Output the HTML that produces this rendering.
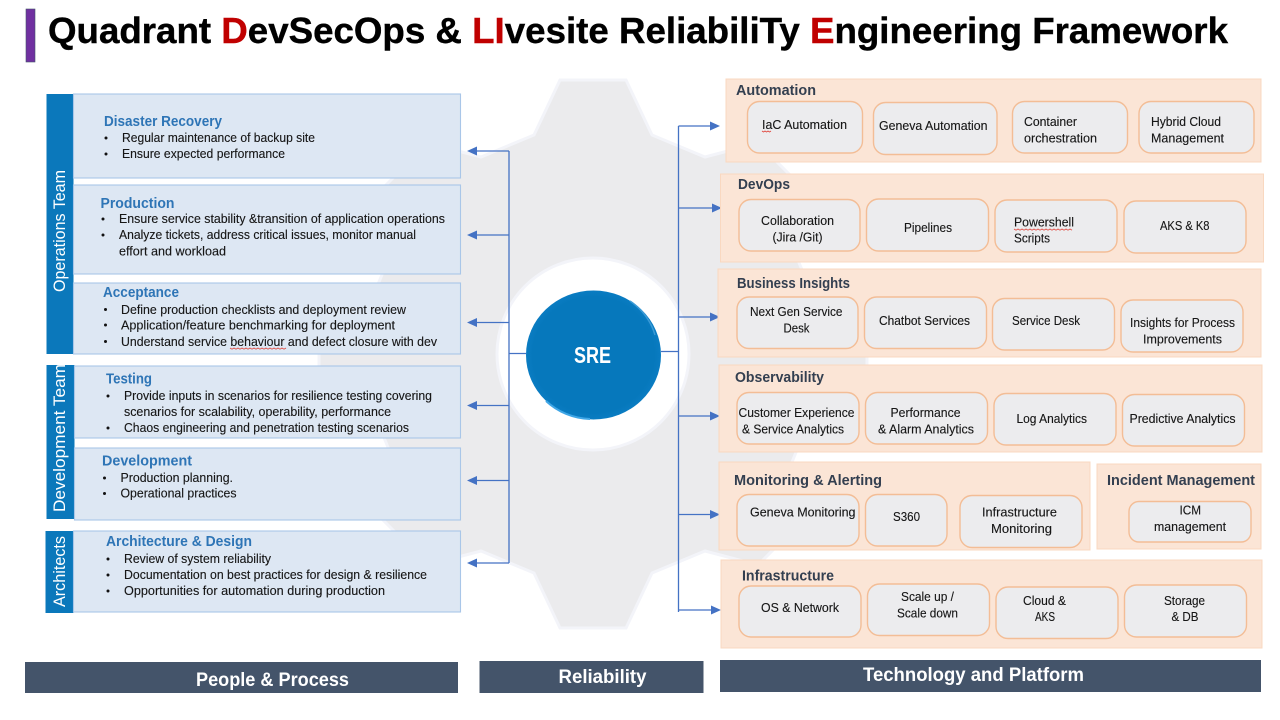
<!DOCTYPE html>
<html><head><meta charset="utf-8"><title>Quadrant DevSecOps Framework</title>
<style>
html,body{margin:0;padding:0;background:#fff}
svg{display:block}
text{font-family:"Liberation Sans",sans-serif;fill:#1a1a1a;font-size:12.5px}
.h{font-weight:bold;font-size:14.5px;fill:#2e75b6}
.p{font-weight:bold;font-size:14.5px;fill:#333f50}
.t{fill:#161616;font-size:12.5px;stroke:#161616;stroke-width:.12}
.b{font-weight:bold;font-size:19px;fill:#fff}
.v{font-size:17px;fill:#fff}
.box{fill:#dde7f3;stroke:#a9c6e8;stroke-width:1.1}
.bar{fill:#0b78bb}
.pan{fill:#fbe5d6;stroke:#f9d8c0;stroke-width:1}
.in{fill:#ececee;stroke:#f3bd96;stroke-width:1.4}
.dk{fill:#44546a}
.c{stroke:#4472c4;stroke-width:1.3;fill:none}
.a{fill:#4472c4}
.w{stroke:#e0433a;stroke-width:.8;fill:none}
.d{fill:#111}
</style></head><body>
<svg width="1280" height="720" viewBox="0 0 1280 720" xmlns="http://www.w3.org/2000/svg">
<defs>
<radialGradient id="sre" cx="50%" cy="50%" r="50%">
<stop offset="0.9" stop-color="#0678bc"/>
<stop offset="1" stop-color="#0a7cc2"/>
</radialGradient>
</defs>
<rect width="1280" height="720" fill="#fff"/>
<!-- title -->
<rect x="26" y="9" width="9" height="53" fill="#7030a0" stroke="#44546a" stroke-width=".6"/>
<text x="48" y="43" textLength="1180" lengthAdjust="spacingAndGlyphs" style="font-size:36px;font-weight:bold;fill:#000;stroke:#000;stroke-width:.4">Quadrant <tspan style="fill:#c00000;stroke:#c00000">D</tspan>evSecOps &amp; <tspan style="fill:#c00000;stroke:#c00000">LI</tspan>vesite ReliabiliT<tspan style="fill:#000">y</tspan> <tspan style="fill:#c00000;stroke:#c00000">E</tspan>ngineering Framework</text>
<!-- gear -->
<polygon transform="translate(593 354)" fill="#ebebed" stroke="#f3f4f9" stroke-width="3" points="-33,-274 33,-274 59,-219 112,-197 165,-211 211,-165 197,-113 219,-60 274,-33 274,33 219,59 197,113 211,165 165,211 112,197 59,219 33,274 -33,274 -59,219 -112,197 -165,211 -211,165 -197,113 -219,59 -274,33 -274,-33 -219,-60 -197,-113 -211,-165 -165,-211 -112,-197 -59,-219"/>
<circle cx="593" cy="354" r="96" fill="#fff" stroke="#f3f4f9" stroke-width="3"/>
<!-- connectors -->
<path class="c" d="M526 353.5H509M509 151V563M509 151H472M509 235H472M509 322.5H472M509 405.5H472M509 480.5H472M509 563H472"/>
<path class="c" d="M661 351.5H678.5M678.5 126V612M678.5 126H712M678.5 208H714M678.5 317H712M678.5 416H712M678.5 514.5H712M678.5 610H713"/>
<g class="a">
<polygon points="467,151 477,146.5 477,155.5"/><polygon points="467,235 477,230.5 477,239.5"/><polygon points="467,322.5 477,318 477,327"/><polygon points="467,405.5 477,401 477,410"/><polygon points="467,480.5 477,476 477,485"/><polygon points="467,563 477,558.5 477,567.5"/>
<polygon points="720,126 710,121.5 710,130.5"/><polygon points="722,208 712,203.5 712,212.5"/><polygon points="720,317 710,312.5 710,321.5"/><polygon points="720,416 710,411.5 710,420.5"/><polygon points="720,514.5 710,510 710,519"/><polygon points="721,610 711,605.5 711,614.5"/>
</g>
<!-- SRE -->
<ellipse cx="593.5" cy="355" rx="67.5" ry="64.5" fill="url(#sre)"/>
<path d="M630 301A66 63 0 0 1 655 335" stroke="#3a9ad6" stroke-width="1.5" fill="none"/>
<path d="M546 401A66 63 0 0 0 590 419" stroke="#3fa6e6" stroke-width="2" fill="none"/>
<text x="574" y="363" textLength="37" lengthAdjust="spacingAndGlyphs" style="font-size:23px;font-weight:bold;fill:#fff">SRE</text>
<!-- left bars -->
<rect class="bar" x="46.5" y="94" width="27" height="260"/>
<rect class="bar" x="46.5" y="365" width="28" height="154"/>
<rect class="bar" x="45.5" y="531" width="28" height="82"/>
<text class="v" transform="translate(65 292) rotate(-90)" textLength="122" lengthAdjust="spacingAndGlyphs">Operations Team</text>
<text class="v" transform="translate(65 512) rotate(-90)" textLength="148" lengthAdjust="spacingAndGlyphs">Development Team</text>
<text class="v" transform="translate(65 607) rotate(-90)" textLength="71" lengthAdjust="spacingAndGlyphs">Architects</text>
<!-- left boxes -->
<rect class="box" x="73.5" y="94" width="387" height="84"/>
<rect class="box" x="73.5" y="185" width="387" height="89"/>
<rect class="box" x="73.5" y="283" width="387" height="71"/>
<rect class="box" x="74.5" y="366" width="386" height="72"/>
<rect class="box" x="74.5" y="448" width="386" height="72"/>
<rect class="box" x="73.5" y="531" width="387" height="81"/>
<text class="h" x="104" y="126" textLength="118" lengthAdjust="spacingAndGlyphs">Disaster Recovery</text>
<circle class="d" cx="106" cy="138" r="1.5"/><text class="t" x="122" y="142" textLength="193" lengthAdjust="spacingAndGlyphs">Regular maintenance of backup site</text>
<circle class="d" cx="106" cy="154" r="1.5"/><text class="t" x="122" y="158" textLength="163" lengthAdjust="spacingAndGlyphs">Ensure expected performance</text>
<text class="h" x="100.5" y="208" textLength="74" lengthAdjust="spacingAndGlyphs">Production</text>
<circle class="d" cx="103" cy="219" r="1.5"/><text class="t" x="119" y="223" textLength="326" lengthAdjust="spacingAndGlyphs">Ensure service stability &amp;transition of application operations</text>
<circle class="d" cx="103" cy="235" r="1.5"/><text class="t" x="119" y="239" textLength="297" lengthAdjust="spacingAndGlyphs">Analyze tickets, address critical issues, monitor manual</text>
<text class="t" x="119" y="255.5" textLength="107" lengthAdjust="spacingAndGlyphs">effort and workload</text>
<text class="h" x="103" y="297" textLength="76" lengthAdjust="spacingAndGlyphs">Acceptance</text>
<circle class="d" cx="105.5" cy="309.5" r="1.5"/><text class="t" x="121" y="314" textLength="285" lengthAdjust="spacingAndGlyphs">Define production checklists and deployment review</text>
<circle class="d" cx="105.5" cy="325" r="1.5"/><text class="t" x="121" y="329.5" textLength="274" lengthAdjust="spacingAndGlyphs">Application/feature benchmarking for deployment</text>
<circle class="d" cx="105.5" cy="341.5" r="1.5"/><text class="t" x="121" y="346" textLength="316" lengthAdjust="spacingAndGlyphs">Understand service behaviour and defect closure with dev</text>
<path class="w" d="M230 348l2 1.2 2-1.2 2 1.2 2-1.2 2 1.2 2-1.2 2 1.2 2-1.2 2 1.2 2-1.2 2 1.2 2-1.2 2 1.2 2-1.2 2 1.2 2-1.2 2 1.2 2-1.2 2 1.2 2-1.2 2 1.2 2-1.2 2 1.2 2-1.2 2 1.2 2-1.2 2 1.2 2-1.2"/>
<text class="h" x="106" y="383.5" textLength="46" lengthAdjust="spacingAndGlyphs">Testing</text>
<circle class="d" cx="108" cy="396" r="1.5"/><text class="t" x="124" y="400" textLength="308" lengthAdjust="spacingAndGlyphs">Provide inputs in scenarios for resilience testing covering</text>
<text class="t" x="124" y="416" textLength="267" lengthAdjust="spacingAndGlyphs">scenarios for scalability, operability, performance</text>
<circle class="d" cx="108" cy="428" r="1.5"/><text class="t" x="124" y="432" textLength="285" lengthAdjust="spacingAndGlyphs">Chaos engineering and penetration testing scenarios</text>
<text class="h" x="102" y="465.5" textLength="90" lengthAdjust="spacingAndGlyphs">Development</text>
<circle class="d" cx="104.5" cy="478" r="1.5"/><text class="t" x="120.5" y="482" textLength="112.5" lengthAdjust="spacingAndGlyphs">Production planning.</text>
<circle class="d" cx="104.5" cy="493.5" r="1.5"/><text class="t" x="120.5" y="497.5" textLength="116" lengthAdjust="spacingAndGlyphs">Operational practices</text>
<text class="h" x="106" y="546" textLength="146" lengthAdjust="spacingAndGlyphs">Architecture &amp; Design</text>
<circle class="d" cx="108" cy="559" r="1.5"/><text class="t" x="124" y="563" textLength="147" lengthAdjust="spacingAndGlyphs">Review of system reliability</text>
<circle class="d" cx="108" cy="575" r="1.5"/><text class="t" x="124" y="579" textLength="303" lengthAdjust="spacingAndGlyphs">Documentation on best practices for design &amp; resilience</text>
<circle class="d" cx="108" cy="591" r="1.5"/><text class="t" x="124" y="595" textLength="261" lengthAdjust="spacingAndGlyphs">Opportunities for automation during production</text>
<!-- right panels -->
<rect class="pan" x="726" y="79" width="535" height="83"/>
<rect class="pan" x="720.5" y="174" width="543" height="88"/>
<rect class="pan" x="718" y="269" width="543" height="88"/>
<rect class="pan" x="719" y="365" width="543" height="87"/>
<rect class="pan" x="719" y="462" width="371" height="88"/>
<rect class="pan" x="1097" y="464" width="164" height="85"/>
<rect class="pan" x="721" y="560" width="541" height="88"/>
<text class="p" x="736" y="95" textLength="80" lengthAdjust="spacingAndGlyphs">Automation</text>
<rect class="in" x="747.5" y="101.5" width="115" height="51.5" rx="12"/>
<rect class="in" x="873.5" y="102.5" width="123.5" height="52" rx="12"/>
<rect class="in" x="1012.5" y="101.5" width="115" height="51.5" rx="12"/>
<rect class="in" x="1139" y="101.5" width="115" height="51.5" rx="12"/>
<text class="t" x="762" y="129" textLength="85" lengthAdjust="spacingAndGlyphs">IaC Automation</text>
<path class="w" d="M762 131l1.5 1 1.5-1 1.5 1 1.5-1 1.5 1 1.5-1"/>
<text class="t" x="879" y="130" textLength="108.5" lengthAdjust="spacingAndGlyphs">Geneva Automation</text>
<text class="t" x="1024" y="126" textLength="53" lengthAdjust="spacingAndGlyphs">Container</text>
<text class="t" x="1024" y="142.5" textLength="73" lengthAdjust="spacingAndGlyphs">orchestration</text>
<text class="t" x="1151" y="126" textLength="70" lengthAdjust="spacingAndGlyphs">Hybrid Cloud</text>
<text class="t" x="1151" y="142.5" textLength="73" lengthAdjust="spacingAndGlyphs">Management</text>
<text class="p" x="738" y="189" textLength="52" lengthAdjust="spacingAndGlyphs">DevOps</text>
<rect class="in" x="739" y="199.5" width="121" height="51.5" rx="12"/>
<rect class="in" x="866.5" y="199" width="122" height="52" rx="12"/>
<rect class="in" x="995" y="200" width="122" height="52" rx="12"/>
<rect class="in" x="1124" y="201" width="122" height="52" rx="12"/>
<text class="t" x="761" y="225" textLength="73" lengthAdjust="spacingAndGlyphs">Collaboration</text>
<text class="t" x="772.5" y="241.5" textLength="50" lengthAdjust="spacingAndGlyphs">(Jira /Git)</text>
<text class="t" x="904" y="232" textLength="48" lengthAdjust="spacingAndGlyphs">Pipelines</text>
<text class="t" x="1014" y="226.5" textLength="60" lengthAdjust="spacingAndGlyphs">Powershell</text>
<path class="w" d="M1014 229l2 1.2 2-1.2 2 1.2 2-1.2 2 1.2 2-1.2 2 1.2 2-1.2 2 1.2 2-1.2 2 1.2 2-1.2 2 1.2 2-1.2 2 1.2 2-1.2 2 1.2 2-1.2 2 1.2 2-1.2 2 1.2 2-1.2 2 1.2 2-1.2 2 1.2 2-1.2 2 1.2 2-1.2 2 1.2"/>
<text class="t" x="1014" y="242.5" textLength="36" lengthAdjust="spacingAndGlyphs">Scripts</text>
<text class="t" x="1160" y="230" textLength="49.5" lengthAdjust="spacingAndGlyphs">AKS &amp; K8</text>
<text class="p" x="737" y="288" textLength="113" lengthAdjust="spacingAndGlyphs">Business Insights</text>
<rect class="in" x="737" y="297" width="121" height="51.5" rx="12"/>
<rect class="in" x="864.5" y="297" width="122" height="51.5" rx="12"/>
<rect class="in" x="992.5" y="298.5" width="122" height="51.5" rx="12"/>
<rect class="in" x="1121" y="300" width="122" height="52" rx="12"/>
<text class="t" x="750" y="316" textLength="92.5" lengthAdjust="spacingAndGlyphs">Next Gen Service</text>
<text class="t" x="783.5" y="332.5" textLength="26" lengthAdjust="spacingAndGlyphs">Desk</text>
<text class="t" x="879" y="325" textLength="91" lengthAdjust="spacingAndGlyphs">Chatbot Services</text>
<text class="t" x="1012" y="325" textLength="68" lengthAdjust="spacingAndGlyphs">Service Desk</text>
<text class="t" x="1130" y="327" textLength="105" lengthAdjust="spacingAndGlyphs">Insights for Process</text>
<text class="t" x="1143" y="343.5" textLength="79" lengthAdjust="spacingAndGlyphs">Improvements</text>
<text class="p" x="735" y="382" textLength="89" lengthAdjust="spacingAndGlyphs">Observability</text>
<rect class="in" x="737" y="392.5" width="122" height="51.5" rx="12"/>
<rect class="in" x="865.5" y="392.5" width="122" height="51.5" rx="12"/>
<rect class="in" x="994" y="393.5" width="122" height="51.5" rx="12"/>
<rect class="in" x="1122.5" y="394.5" width="122" height="51.5" rx="12"/>
<text class="t" x="738.5" y="417" textLength="116" lengthAdjust="spacingAndGlyphs">Customer Experience</text>
<text class="t" x="742" y="433.5" textLength="102" lengthAdjust="spacingAndGlyphs">&amp; Service Analytics</text>
<text class="t" x="890.5" y="417" textLength="70" lengthAdjust="spacingAndGlyphs">Performance</text>
<text class="t" x="878" y="433.5" textLength="96" lengthAdjust="spacingAndGlyphs">&amp; Alarm Analytics</text>
<text class="t" x="1016.5" y="423" textLength="70.5" lengthAdjust="spacingAndGlyphs">Log Analytics</text>
<text class="t" x="1129.5" y="423" textLength="106" lengthAdjust="spacingAndGlyphs">Predictive Analytics</text>
<text class="p" x="734" y="485" textLength="148" lengthAdjust="spacingAndGlyphs">Monitoring &amp; Alerting</text>
<rect class="in" x="737" y="494.5" width="122" height="51.5" rx="12"/>
<rect class="in" x="865.5" y="494.5" width="81.5" height="51.5" rx="12"/>
<rect class="in" x="960" y="495.5" width="122" height="52" rx="12"/>
<text class="t" x="750" y="516.5" textLength="105.5" lengthAdjust="spacingAndGlyphs">Geneva Monitoring</text>
<text class="t" x="893" y="521" textLength="27" lengthAdjust="spacingAndGlyphs">S360</text>
<text class="t" x="982" y="516.5" textLength="75" lengthAdjust="spacingAndGlyphs">Infrastructure</text>
<text class="t" x="991" y="533" textLength="61" lengthAdjust="spacingAndGlyphs">Monitoring</text>
<text class="p" x="1107" y="485" textLength="148" lengthAdjust="spacingAndGlyphs">Incident Management</text>
<rect class="in" x="1129" y="501.5" width="122" height="40.5" rx="10"/>
<text class="t" x="1179.5" y="514.5" textLength="21.5" lengthAdjust="spacingAndGlyphs">ICM</text>
<text class="t" x="1154" y="531" textLength="72" lengthAdjust="spacingAndGlyphs">management</text>
<text class="p" x="742" y="580.5" textLength="92" lengthAdjust="spacingAndGlyphs">Infrastructure</text>
<rect class="in" x="739" y="586" width="122" height="51" rx="12"/>
<rect class="in" x="867.5" y="584" width="122" height="51.5" rx="12"/>
<rect class="in" x="996" y="587" width="122" height="51.5" rx="12"/>
<rect class="in" x="1124.5" y="585" width="122" height="52" rx="12"/>
<text class="t" x="761" y="612" textLength="78" lengthAdjust="spacingAndGlyphs">OS &amp; Network</text>
<text class="t" x="901" y="601" textLength="53" lengthAdjust="spacingAndGlyphs">Scale up /</text>
<text class="t" x="897" y="617.5" textLength="61" lengthAdjust="spacingAndGlyphs">Scale down</text>
<text class="t" x="1023" y="605" textLength="43" lengthAdjust="spacingAndGlyphs">Cloud &amp;</text>
<text class="t" x="1035" y="621" textLength="20" lengthAdjust="spacingAndGlyphs">AKS</text>
<text class="t" x="1164" y="605" textLength="41" lengthAdjust="spacingAndGlyphs">Storage</text>
<text class="t" x="1171.5" y="621" textLength="27" lengthAdjust="spacingAndGlyphs">&amp; DB</text>
<!-- bottom bars -->
<rect class="dk" x="25" y="662" width="433" height="31"/>
<rect class="dk" x="479.5" y="661" width="224" height="32"/>
<rect class="dk" x="720" y="660" width="541" height="32"/>
<text class="b" x="196" y="686" textLength="153" lengthAdjust="spacingAndGlyphs">People &amp; Process</text>
<text class="b" x="558.5" y="683" textLength="88" lengthAdjust="spacingAndGlyphs">Reliability</text>
<text class="b" x="863" y="681" textLength="221" lengthAdjust="spacingAndGlyphs">Technology and Platform</text>
</svg>
</body></html>
